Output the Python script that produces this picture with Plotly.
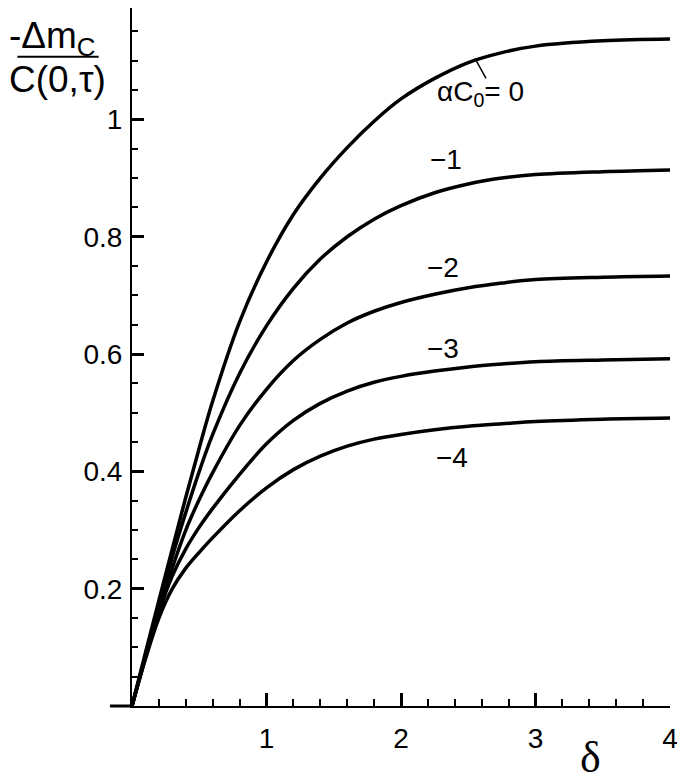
import plotly.graph_objects as go

# delta grid (x) and curve values, one list per alpha*C0
delta = [0, 0.1, 0.2, 0.3, 0.4, 0.5, 0.6, 0.8, 1.0, 1.2, 1.4, 1.6, 1.8, 2.0,
         2.25, 2.5, 2.75, 3.0, 3.5, 4.0]

dm_0 = [0, 0.091, 0.18, 0.268, 0.356, 0.44, 0.52, 0.655, 0.757, 0.838, 0.9,
        0.952, 0.997, 1.035, 1.07, 1.097, 1.114, 1.125, 1.134, 1.137]
dm_m1 = [0, 0.087, 0.172, 0.255, 0.33, 0.40, 0.463, 0.567, 0.648, 0.712,
         0.762, 0.8, 0.83, 0.853, 0.875, 0.89, 0.9, 0.906, 0.911, 0.914]
dm_m2 = [0, 0.084, 0.164, 0.236, 0.30, 0.352, 0.398, 0.478, 0.54, 0.589,
         0.625, 0.653, 0.673, 0.688, 0.702, 0.713, 0.721, 0.727, 0.731, 0.733]
dm_m3 = [0, 0.083, 0.16, 0.222, 0.268, 0.305, 0.337, 0.395, 0.447, 0.487,
         0.516, 0.537, 0.552, 0.562, 0.571, 0.578, 0.583, 0.587, 0.59, 0.592]
dm_m4 = [0, 0.08, 0.15, 0.20, 0.235, 0.262, 0.287, 0.333, 0.372, 0.403,
         0.426, 0.443, 0.455, 0.463, 0.471, 0.477, 0.481, 0.485, 0.489, 0.491]

curves = [dm_0, dm_m1, dm_m2, dm_m3, dm_m4]

x_ticks = [0, 1, 2, 3, 4]
x_ticktext = ['', '1', '2', '3', '4']
y_ticks = [0, 0.2, 0.4, 0.6, 0.8, 1.0]
y_ticktext = ['', '0.2', '0.4', '0.6', '0.8', '1']

# curve labels: (text, delta, value)
labels = [
    ('αC<sub>0</sub>= 0', 2.59, 1.045),
    ('−1', 2.335, 0.931),
    ('−2', 2.312, 0.747),
    ('−3', 2.312, 0.610),
    ('−4', 2.379, 0.424),
]

font = 'Liberation Sans, Arial, sans-serif'

fig = go.Figure()
for ys in curves:
    fig.add_trace(go.Scatter(x=delta, y=ys, mode='lines',
                             line=dict(color='black', width=3.5, shape='spline'),
                             showlegend=False, hoverinfo='skip'))

for text, lx, ly in labels:
    fig.add_annotation(x=lx, y=ly, xref='x', yref='y', text=text,
                       showarrow=False, font=dict(family=font, size=28, color='black'))

# leader line from the top curve to its label
fig.add_shape(type='line', xref='x', yref='y', x0=2.55, y0=1.104, x1=2.632, y1=1.07,
              line=dict(color='black', width=1.5))

# y axis title as a fraction
fig.add_annotation(x=-0.232, y=0.957, xref='paper', yref='paper',
                   xanchor='left', yanchor='middle',
                   text='-Δm<sub>C</sub>', showarrow=False,
                   font=dict(family=font, size=37, color='black'))
fig.add_shape(type='line', xref='paper', yref='paper', x0=-0.213, x1=-0.062,
              y0=0.930, y1=0.930, line=dict(color='black', width=2))
fig.add_annotation(x=-0.232, y=0.897, xref='paper', yref='paper',
                   xanchor='left', yanchor='middle',
                   text='C(0,τ)', showarrow=False,
                   font=dict(family=font, size=37, color='black'))

# x axis title
fig.add_annotation(x=0.853, y=-0.074, xref='paper', yref='paper', text='δ',
                   xanchor='center', yanchor='middle', showarrow=False,
                   font=dict(family='Liberation Serif, Times New Roman, serif', size=44, color='black'))

# short stub of the x axis left of the origin
fig.add_shape(type='line', xref='paper', yref='paper', x0=-0.041, x1=0.0, y0=0, y1=0,
              line=dict(color='black', width=3))

fig.update_xaxes(range=[0, 4], showgrid=False, zeroline=False,
                 showline=True, linecolor='black', linewidth=2,
                 ticks='inside', ticklen=13, tickwidth=2.5, tickcolor='black',
                 tickvals=x_ticks, ticktext=x_ticktext, ticklabelstandoff=6,
                 tickfont=dict(family=font, size=28, color='black'),
                 minor=dict(tick0=0, dtick=0.2, ticks='inside', ticklen=7,
                            tickwidth=1.5, tickcolor='black'))
fig.update_yaxes(range=[0, 1.19], showgrid=False, zeroline=False,
                 showline=True, linecolor='black', linewidth=2,
                 ticks='inside', ticklen=12, tickwidth=2.5, tickcolor='black',
                 tickvals=y_ticks, ticktext=y_ticktext, ticklabelstandoff=2,
                 tickfont=dict(family=font, size=28, color='black'),
                 minor=dict(tick0=0, dtick=0.05, ticks='inside', ticklen=6,
                            tickwidth=1.5, tickcolor='black'))

# the page puts the figure 8px in from the top-left corner, so the figure
# is 8px smaller than the window and the margins are shifted by that much
fig.update_layout(width=677, height=774,
                  margin=dict(l=124, r=15, t=0, b=76),
                  plot_bgcolor='white', paper_bgcolor='white')

fig.write_html("out.html")
